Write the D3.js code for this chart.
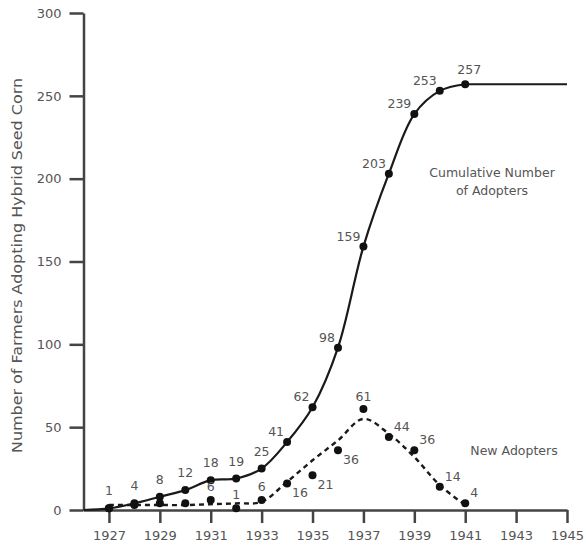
<!DOCTYPE html>
<html>
<head>
<meta charset="utf-8">
<script src="https://cdn.jsdelivr.net/npm/d3@7"></script>
<style>
  html, body { margin: 0; padding: 0; background: #fff; }
  svg { display: block; }
  text { font-family: "DejaVu Sans", sans-serif; fill: #555; }
</style>
</head>
<body>
<svg id="chart" width="586" height="545"></svg>
<script>
// ---- data ----
const years = [1927, 1928, 1929, 1930, 1931, 1932, 1933, 1934, 1935, 1936, 1937, 1938, 1939, 1940, 1941];
const cumulative = [1, 4, 8, 12, 18, 19, 25, 41, 62, 98, 159, 203, 239, 253, 257];
const newAdopters = [1, 3, 4, 4, 6, 1, 6, 16, 21, 36, 61, 44, 36, 14, 4];
// smoothed trend drawn as the dashed curve
const newTrend = [3, 3, 3, 3, 3.5, 4, 5, 17, 30, 42, 55, 46, 32, 15, 3];
const cumStart = [1926, 0];
const cumEnd = [1945, 257];
const xTicks = [1927, 1929, 1931, 1933, 1935, 1937, 1939, 1941, 1943, 1945];
const yTicks = [0, 50, 100, 150, 200, 250, 300];
const yTitle = "Number of Farmers Adopting Hybrid Seed Corn";
const cumNote = ["Cumulative Number", "of Adopters"];
const newNote = "New Adopters";

// ---- layout ----
const svg = d3.select("#chart");
const x = d3.scaleLinear().domain([1926, 1945]).range([83.5, 567]);
const y = d3.scaleLinear().domain([0, 300]).range([510, 13]);

// axes
const gx = svg.append("g").attr("transform", `translate(0,${y(0)})`)
  .call(d3.axisBottom(x).tickValues(xTicks).tickFormat(d3.format("d")).tickSize(13).tickSizeOuter(0).tickPadding(8));
const gy = svg.append("g").attr("transform", `translate(${x(1926)},0)`)
  .call(d3.axisLeft(y).tickValues(yTicks).tickSize(14).tickSizeOuter(0).tickPadding(8));
[gx, gy].forEach(g => {
  g.select(".domain").attr("stroke", "#444").attr("stroke-width", 2.5);
  g.selectAll(".tick line").attr("stroke", "#444").attr("stroke-width", 2.5);
  g.selectAll(".tick text").attr("fill", "#555").style("font-size", "13px")
    .style("font-family", "DejaVu Sans, sans-serif");
});

// y title
svg.append("text")
  .attr("transform", `translate(22,${(78 + 453) / 2}) rotate(-90)`)
  .attr("text-anchor", "middle")
  .attr("textLength", 375).attr("lengthAdjust", "spacingAndGlyphs")
  .style("font-size", "14px")
  .text(yTitle);

// cumulative curve (smooth through the points, then flat to the end of the axis)
const line = d3.line().x(d => x(d[0])).y(d => y(d[1]));
const cumPts = [cumStart].concat(years.map((yr, i) => [yr, cumulative[i]]));
const lastPt = cumPts[cumPts.length - 1];
svg.append("path")
  .datum(cumPts)
  .attr("fill", "none").attr("stroke", "#1a1a1a").attr("stroke-width", 2.2)
  .attr("d", line.curve(d3.curveCatmullRom.alpha(0.5)));
svg.append("path")
  .datum([lastPt, cumEnd])
  .attr("fill", "none").attr("stroke", "#1a1a1a").attr("stroke-width", 2.2)
  .attr("d", d3.line().x(d => x(d[0])).y(d => y(d[1])));

// new adopters dashed trend
svg.append("path")
  .datum(years.map((yr, i) => [yr, newTrend[i]]))
  .attr("fill", "none").attr("stroke", "#1a1a1a").attr("stroke-width", 2.4)
  .attr("stroke-dasharray", "5,4")
  .attr("d", d3.line().x(d => x(d[0])).y(d => y(d[1])).curve(d3.curveCatmullRom.alpha(0.5)));

// dots
svg.append("g").selectAll("circle.c").data(years).join("circle")
  .attr("cx", d => x(d)).attr("cy", (d, i) => y(cumulative[i])).attr("r", 4).attr("fill", "#111");
svg.append("g").selectAll("circle.n").data(years).join("circle")
  .attr("cx", d => x(d)).attr("cy", (d, i) => y(newAdopters[i])).attr("r", 4).attr("fill", "#111");

// cumulative labels
svg.append("g").selectAll("text").data(years).join("text")
  .style("font-size", "12.5px")
  .attr("x", (d, i) => x(d) + (i < 7 ? 0 : i === 14 ? 4 : -3))
  .attr("y", (d, i) => y(cumulative[i]) + (i < 7 ? -13 : i === 14 ? -10 : -6))
  .attr("text-anchor", (d, i) => (i < 7 || i === 14) ? "middle" : "end")
  .text((d, i) => cumulative[i]);

// new adopters labels (from 1931 on)
svg.append("g").selectAll("text").data(years.slice(4)).join("text")
  .style("font-size", "12.5px")
  .each(function (d, j) {
    const i = j + 4;
    const cx = x(d), cy = y(newAdopters[i]);
    let dx = 0, dy = -9, anchor = "middle";
    if (i >= 7 && i <= 9) { dx = 5; dy = 14; anchor = "start"; }
    else if (i === 10) { dx = 0; dy = -8; anchor = "middle"; }
    else if (i >= 11) { dx = 5; dy = -6; anchor = "start"; }
    d3.select(this).attr("x", cx + dx).attr("y", cy + dy).attr("text-anchor", anchor).text(newAdopters[i]);
  });

// annotations
svg.append("text").attr("x", 492).attr("y", 177).attr("text-anchor", "middle")
  .style("font-size", "12.5px").text(cumNote[0]);
svg.append("text").attr("x", 492).attr("y", 195).attr("text-anchor", "middle")
  .style("font-size", "12.5px").text(cumNote[1]);
svg.append("text").attr("x", 514).attr("y", 455).attr("text-anchor", "middle")
  .style("font-size", "12.5px").text(newNote);
</script>
</body>
</html>
